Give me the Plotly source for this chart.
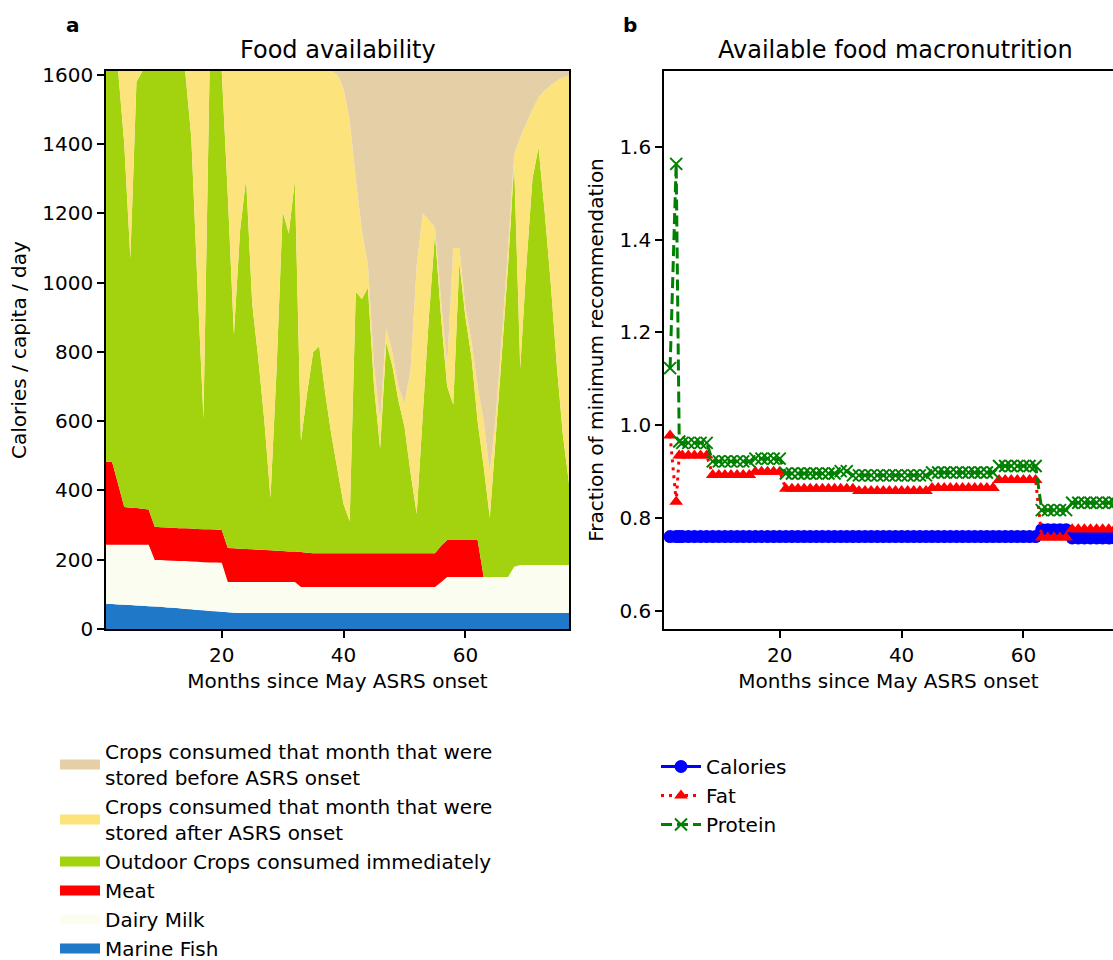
import numpy as np
import plotly.graph_objects as go

W, H = 1113, 960
FONT = "DejaVu Sans"

# ---------------- data: panel a (cumulative boundaries, kcal/capita/day) ----------------
months = list(range(1, 78))

marine_fish = [73, 72, 71, 70, 69, 68, 67, 66, 65, 64,
               62, 61, 60, 58, 57, 55, 54, 52, 51, 50,
               48, 47, 46, 46, 46, 46, 46, 46, 46, 46,
               46, 46, 46, 46, 46, 46, 46, 46, 46, 46,
               46, 46, 46, 46, 46, 46, 46, 46, 46, 46,
               46, 46, 46, 46, 46, 46, 46, 46, 46, 46,
               46, 46, 46, 46, 46, 46, 46, 46, 46, 46,
               46, 46, 46, 46, 46, 46, 46]

dairy_top = [243, 243, 243, 243, 243, 243, 243, 243, 199, 199,
             198, 197, 196, 196, 195, 194, 193, 192, 192, 191,
             136, 136, 136, 136, 136, 136, 136, 136, 136, 136,
             136, 136, 121, 121, 121, 121, 121, 121, 121, 121,
             121, 121, 121, 121, 121, 121, 121, 121, 121, 121,
             121, 121, 121, 121, 121, 135, 150, 150, 150, 150,
             150, 150, 150, 150, 150, 150, 150, 180, 185, 185,
             185, 185, 185, 185, 185, 185, 185]

meat_top = [483, 483, 418, 352, 350, 349, 347, 345, 295, 294,
            293, 292, 291, 291, 290, 289, 288, 288, 287, 286,
            234, 233, 232, 231, 230, 229, 228, 227, 226, 225,
            224, 224, 222, 220, 219, 219, 219, 219, 219, 219,
            219, 219, 219, 219, 219, 219, 219, 219, 219, 219,
            219, 219, 219, 219, 219, 240, 257, 257, 257, 257,
            257, 257, 150, 150, 150, 150, 150, 180, 185, 185,
            185, 185, 185, 185, 185, 185, 185]

outdoor_top = [1611, 1611, 1611, 1400, 1070, 1580, 1611, 1611, 1611, 1611,
               1611, 1611, 1611, 1611, 1420, 1000, 608, 1611, 1611, 1611,
               1250, 850, 1150, 1301, 940, 780, 600, 378, 750, 1206,
               1142, 1295, 542, 680, 800, 816, 679, 560, 460, 360,
               311, 974, 953, 985, 700, 521, 827, 760, 660, 584,
               450, 332, 620, 900, 1142, 900, 700, 648, 1058, 900,
               784, 600, 469, 321, 560, 800, 1050, 1343, 753, 1050,
               1300, 1390, 1206, 1000, 760, 560, 420]

stored_after_top = [1611, 1611, 1611, 1611, 1611, 1611, 1611, 1611, 1611, 1611,
                    1611, 1611, 1611, 1611, 1611, 1611, 1611, 1611, 1611, 1611,
                    1611, 1611, 1611, 1611, 1611, 1611, 1611, 1611, 1611, 1611,
                    1611, 1611, 1611, 1611, 1611, 1611, 1611, 1611, 1600, 1560,
                    1469, 1300, 1150, 1050, 760, 600, 870, 800, 700, 650,
                    750, 1050, 1200, 1180, 1160, 950, 760, 1100, 1100, 930,
                    830, 700, 600, 450, 620, 850, 1100, 1370, 1420, 1460,
                    1500, 1535, 1555, 1570, 1583, 1592, 1598]

total_available = 1611

# ---------------- data: panel b (fraction of minimum recommendation) ----------------
macro_months = [2, 3, 3.5] + list(range(4, 78))

calories = [0.76, 0.76, 0.76, 0.76, 0.76, 0.76, 0.76, 0.76, 0.76, 0.76,
            0.76, 0.76, 0.76, 0.76, 0.76, 0.76, 0.76, 0.76, 0.76, 0.76,
            0.76, 0.76, 0.76, 0.76, 0.76, 0.76, 0.76, 0.76, 0.76, 0.76,
            0.76, 0.76, 0.76, 0.76, 0.76, 0.76, 0.76, 0.76, 0.76, 0.76,
            0.76, 0.76, 0.76, 0.76, 0.76, 0.76, 0.76, 0.76, 0.76, 0.76,
            0.76, 0.76, 0.76, 0.76, 0.76, 0.76, 0.76, 0.76, 0.76, 0.76,
            0.76, 0.76, 0.775, 0.775, 0.775, 0.775, 0.775, 0.757, 0.757, 0.757,
            0.757, 0.757, 0.757, 0.757, 0.757, 0.757, 0.757]

fat = [0.978, 0.835, 0.935, 0.935, 0.935, 0.935, 0.935, 0.935, 0.893, 0.893,
       0.893, 0.893, 0.893, 0.893, 0.893, 0.900, 0.900, 0.900, 0.900, 0.900,
       0.863, 0.863, 0.863, 0.863, 0.863, 0.863, 0.863, 0.863, 0.863, 0.863,
       0.863, 0.863, 0.858, 0.858, 0.858, 0.858, 0.858, 0.858, 0.858, 0.858,
       0.858, 0.858, 0.858, 0.858, 0.865, 0.865, 0.865, 0.865, 0.865, 0.865,
       0.865, 0.865, 0.865, 0.865, 0.865, 0.882, 0.882, 0.882, 0.882, 0.882,
       0.882, 0.882, 0.758, 0.758, 0.758, 0.758, 0.758, 0.776, 0.776, 0.776,
       0.776, 0.776, 0.776, 0.776, 0.776, 0.776, 0.776]

protein = [1.123, 1.563, 0.965, 0.962, 0.962, 0.962, 0.962, 0.962, 0.922, 0.922,
           0.922, 0.922, 0.922, 0.922, 0.922, 0.928, 0.928, 0.928, 0.928, 0.928,
           0.896, 0.896, 0.896, 0.896, 0.896, 0.896, 0.896, 0.896, 0.896, 0.901,
           0.901, 0.892, 0.892, 0.892, 0.892, 0.892, 0.892, 0.892, 0.892, 0.892,
           0.892, 0.892, 0.892, 0.892, 0.898, 0.898, 0.898, 0.898, 0.898, 0.898,
           0.898, 0.898, 0.898, 0.898, 0.898, 0.912, 0.912, 0.912, 0.912, 0.912,
           0.912, 0.912, 0.817, 0.817, 0.817, 0.817, 0.817, 0.833, 0.833, 0.833,
           0.833, 0.833, 0.833, 0.833, 0.833, 0.833, 0.833]

# ---------------- layers derived from boundaries ----------------
fish_a = np.array(marine_fish, dtype=float)
dairy_a = np.array(dairy_top, dtype=float) - fish_a
meat_a = np.array(meat_top, dtype=float) - np.array(dairy_top, dtype=float)
outdoor_a = np.array(outdoor_top, dtype=float) - np.array(meat_top, dtype=float)
after_a = np.array(stored_after_top, dtype=float) - np.array(outdoor_top, dtype=float)
before_a = total_available - np.array(stored_after_top, dtype=float)

layers = [
    ("Marine Fish", fish_a, "#1f78c8"),
    ("Dairy Milk", dairy_a, "#fbfdf0"),
    ("Meat", meat_a, "#ff0000"),
    ("Outdoor Crops consumed immediately", outdoor_a, "#a3d30f"),
    ("Crops consumed that month that were<br>stored after ASRS onset", after_a, "#fde37b"),
    ("Crops consumed that month that were<br>stored before ASRS onset", before_a, "#e4cfa6"),
]

fig = go.Figure()

for name, vals, color in layers:
    fig.add_trace(go.Scatter(
        x=months, y=vals, mode="none", stackgroup="food",
        fillcolor=color, line=dict(width=0), name=name.replace("<br>", " "),
        showlegend=False, xaxis="x", yaxis="y"))

# legend entries for the stacked areas (matplotlib-like patches)
for name, vals, color in reversed(layers):
    fig.add_trace(go.Scatter(
        x=[None], y=[None], mode="lines", name=name,
        line=dict(color=color, width=14), legend="legend",
        xaxis="x", yaxis="y", hoverinfo="skip"))

# panel b lines
fig.add_trace(go.Scatter(
    x=macro_months, y=calories, mode="lines+markers", name="Calories",
    line=dict(color="#0000ff", width=3),
    marker=dict(symbol="circle", size=13, color="#0000ff"),
    xaxis="x2", yaxis="y2", legend="legend2", cliponaxis=True))
fig.add_trace(go.Scatter(
    x=macro_months, y=fat, mode="lines+markers", name="Fat",
    line=dict(color="#ff0000", width=3, dash="3px,5px"),
    marker=dict(symbol="triangle-up", size=12, color="#ff0000"),
    xaxis="x2", yaxis="y2", legend="legend2", cliponaxis=True))
fig.add_trace(go.Scatter(
    x=macro_months, y=protein, mode="lines+markers", name="Protein",
    line=dict(color="#008000", width=3, dash="11px,5px"),
    marker=dict(symbol="x-thin", size=12, color="#008000",
                line=dict(color="#008000", width=2)),
    xaxis="x2", yaxis="y2", legend="legend2", cliponaxis=True))

L_X = [106 / W, 569 / W]
R_X = [664 / W, 1.0]
Y_D = [1 - 629 / H, 1 - 71 / H]

axis_common = dict(
    showgrid=False, zeroline=False, showline=True, linecolor="black",
    linewidth=1.6, ticks="outside", ticklen=7, tickwidth=1.6,
    tickcolor="black", tickfont=dict(family=FONT, size=20, color="black"),
    automargin=False,
)

fig.update_layout(
    width=W, height=H,
    margin=dict(l=0, r=0, t=0, b=0, autoexpand=False),
    paper_bgcolor="white", plot_bgcolor="white",
    font=dict(family=FONT, size=20, color="black"),
    xaxis=dict(domain=L_X, range=[1, 77], tickvals=[20, 40, 60], mirror=True,
               anchor="y",
               title=dict(text="Months since May ASRS onset",
                          font=dict(family=FONT, size=20), standoff=8),
               **axis_common),
    yaxis=dict(domain=Y_D, range=[0, total_available],
               tickvals=[0, 200, 400, 600, 800, 1000, 1200, 1400, 1600],
               mirror=True, anchor="x",
               title=dict(text="Calories / capita / day",
                          font=dict(family=FONT, size=20), standoff=10),
               **axis_common),
    xaxis2=dict(domain=R_X, range=[1, 74.7], tickvals=[20, 40, 60],
                mirror=True, anchor="y2",
                title=dict(text="Months since May ASRS onset",
                           font=dict(family=FONT, size=20), standoff=8),
                **axis_common),
    yaxis2=dict(domain=Y_D, range=[0.561, 1.763],
                tickvals=[0.6, 0.8, 1.0, 1.2, 1.4, 1.6],
                ticktext=["0.6", "0.8", "1.0", "1.2", "1.4", "1.6"],
                mirror=False, anchor="x2",
                title=dict(text="Fraction of minimum recommendation",
                           font=dict(family=FONT, size=20), standoff=10),
                **axis_common),
    legend=dict(x=55 / W, y=1 - 732 / H, xanchor="left", yanchor="top",
                font=dict(family=FONT, size=20, color="black"),
                itemwidth=40, bgcolor="rgba(0,0,0,0)", traceorder="normal",
                tracegroupgap=0, valign="middle"),
    legend2=dict(x=656 / W, y=1 - 747 / H, xanchor="left", yanchor="top",
                 font=dict(family=FONT, size=20, color="black"),
                 itemwidth=40, bgcolor="rgba(0,0,0,0)", traceorder="normal",
                 tracegroupgap=0),
    showlegend=True,
    annotations=[
        dict(text="Food availability", x=337.5 / W, y=1 - 50 / H,
             xref="paper", yref="paper", xanchor="center", yanchor="middle",
             showarrow=False, font=dict(family=FONT, size=24, color="black")),
        dict(text="Available food macronutrition", x=895 / W, y=1 - 50 / H,
             xref="paper", yref="paper", xanchor="center", yanchor="middle",
             showarrow=False, font=dict(family=FONT, size=24, color="black")),
        dict(text="<b>a</b>", x=73 / W, y=1 - 25 / H, xref="paper", yref="paper",
             xanchor="center", yanchor="middle", showarrow=False,
             font=dict(family=FONT, size=20, color="black")),
        dict(text="<b>b</b>", x=630 / W, y=1 - 25 / H, xref="paper", yref="paper",
             xanchor="center", yanchor="middle", showarrow=False,
             font=dict(family=FONT, size=20, color="black")),
    ],
)

fig.write_html("out.html")
